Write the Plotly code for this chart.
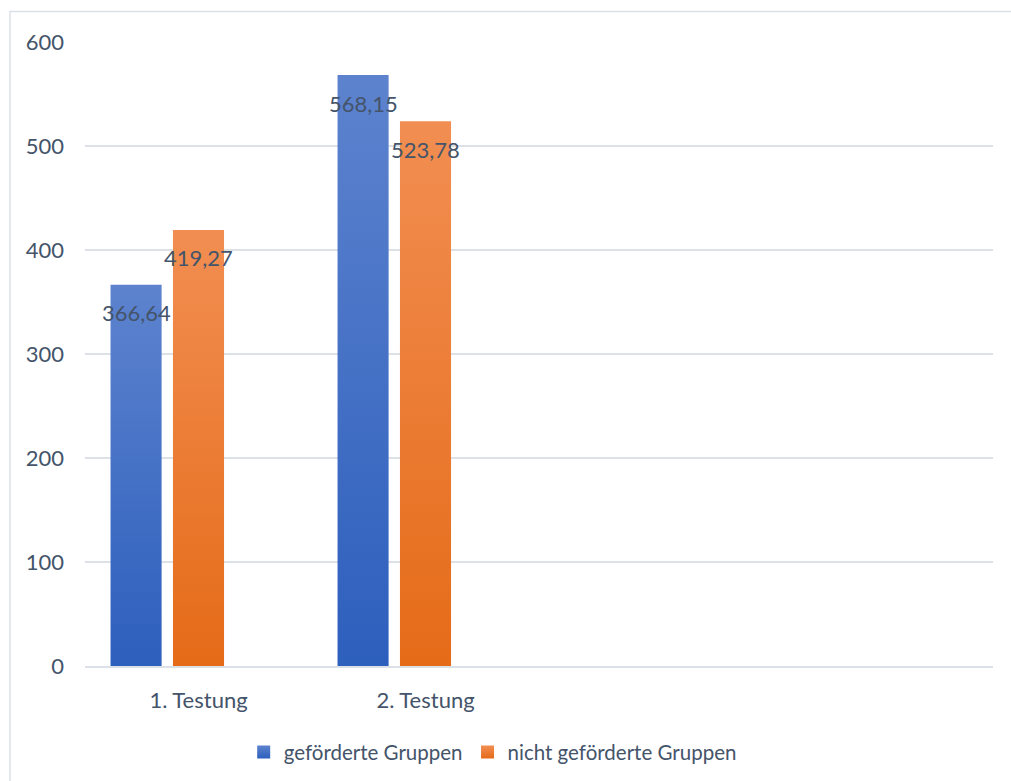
import plotly.graph_objects as go

# ---- data ----
categories = ["1. Testung", "2. Testung", "", ""]
series_names = ["geförderte Gruppen", "nicht geförderte Gruppen"]
values_gefoerdert = [366.64, 568.15]
values_nicht = [419.27, 523.78]
value_labels_gefoerdert = ["366,64", "568,15"]
value_labels_nicht = ["419,27", "523,78"]
y_ticks = [0, 100, 200, 300, 400, 500, 600]

# ---- style ----
FONT = "Lato"
TXT = "#44546A"
GRID = "#DCE0E7"
blue_scale = [[0, "#2D5FBD"], [1, "#5D83CE"]]
orange_scale = [[0, "#E56B18"], [1, "#F28E52"]]

BAR_W = 0.225            # bar width in category units
OFFSETS = [-0.275, 0.0]  # series offset from category centre (third empty series on the right)

fig = go.Figure()

def add_bar(cat_idx, value, offset, scale, name):
    c = cat_idx + 0.5 + offset
    x0, x1 = c - BAR_W / 2, c + BAR_W / 2
    fig.add_trace(go.Scatter(
        x=[x0, x1, x1, x0, x0], y=[0, 0, value, value, 0],
        mode="lines", fill="toself", line=dict(width=0),
        fillgradient=dict(type="vertical", colorscale=scale, start=0, stop=value),
        showlegend=False, hoverinfo="skip", name=name))

series = [
    (values_gefoerdert, value_labels_gefoerdert, blue_scale),
    (values_nicht, value_labels_nicht, orange_scale),
]
for s, (vals, labs, scale) in enumerate(series):
    for i, v in enumerate(vals):
        add_bar(i, v, OFFSETS[s], scale, series_names[s])
        fig.add_annotation(
            x=i + 0.5 + OFFSETS[s], y=v, text=labs[i], showarrow=False,
            yshift=-28, yanchor="middle", xanchor="center",
            font=dict(family=FONT, size=22, color=TXT))

# legend entries
for name, scale in zip(series_names, [blue_scale, orange_scale]):
    fig.add_trace(go.Scatter(
        x=[None], y=[None], mode="markers", name=name,
        marker=dict(symbol="square", size=13, color=scale[1][1],
                    gradient=dict(type="vertical", color=scale[0][1]),
                    line=dict(width=0))))

fig.update_layout(
    width=1011, height=781,
    margin=dict(l=85, r=18, t=42, b=115, autoexpand=False),
    paper_bgcolor="white", plot_bgcolor="white",
    font=dict(family=FONT, size=22, color=TXT),
    showlegend=True,
    legend=dict(orientation="h", x=0.449, xanchor="center", y=-0.138, yanchor="middle",
                font=dict(family=FONT, size=20.5, color=TXT), itemwidth=30,
                bgcolor="rgba(0,0,0,0)"),
    xaxis=dict(range=[0, len(categories)], tickvals=[i + 0.5 for i in range(len(categories))],
               ticktext=categories, showgrid=False, zeroline=False,
               showline=True, linecolor=GRID, linewidth=1.5, ticks="",
               ticklabelstandoff=14, fixedrange=True),
    yaxis=dict(range=[0, 600], tickvals=y_ticks, showgrid=True, gridcolor=GRID, gridwidth=1.5,
               zeroline=False, showline=False, ticks="", ticklabelstandoff=20, fixedrange=True),
    shapes=[dict(type="rect", xref="paper", yref="paper",
                 x0=-0.0826, x1=1.2, y0=-0.5, y1=1.0489,
                 line=dict(color=GRID, width=1.5), fillcolor="rgba(0,0,0,0)", layer="below")],
)

fig.write_html("out.html")
